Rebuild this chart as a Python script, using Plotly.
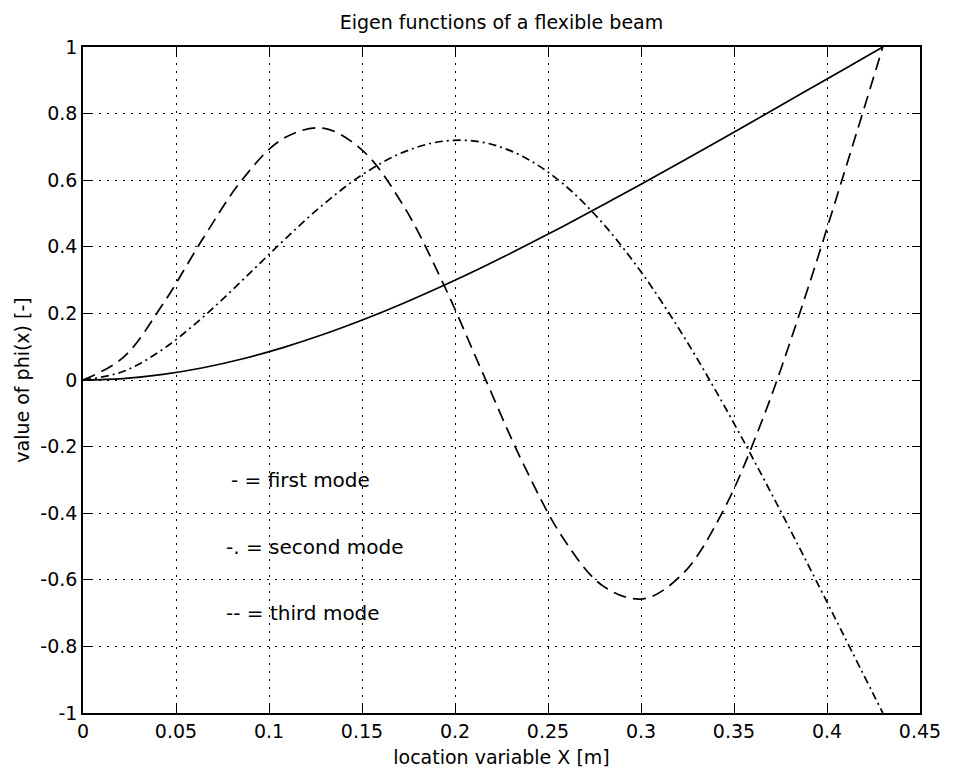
import plotly.graph_objects as go

# location along the beam [m]
x_pos = [0, 0.0215, 0.043, 0.0645, 0.086, 0.1075, 0.129, 0.1505, 0.172, 0.1935, 0.215,
         0.2365, 0.258, 0.2795, 0.301, 0.3225, 0.344, 0.3655, 0.387, 0.4085, 0.43]

first_mode = [0, 0.0043, 0.0168, 0.0368, 0.0639, 0.0973, 0.1365, 0.1809, 0.2299, 0.2830, 0.3395,
              0.3991, 0.4611, 0.5252, 0.5909, 0.6578, 0.7255, 0.7938, 0.8624, 0.9312, 1.0]

second_mode = [0, 0.0254, 0.0926, 0.1888, 0.3011, 0.4173, 0.5261, 0.6177, 0.6835, 0.7170, 0.7137,
               0.6712, 0.5895, 0.4702, 0.3171, 0.1350, -0.0700, -0.2917, -0.5237, -0.7611, -1.0]

third_mode = [0, 0.0670, 0.2281, 0.4248, 0.6045, 0.7245, 0.7562, 0.6881, 0.5259, 0.2917, 0.0197,
              -0.2493, -0.4738, -0.6181, -0.6574, -0.5815, -0.3949, -0.1158, 0.2285, 0.6085, 1.0]

x_ticks = [0, 0.05, 0.1, 0.15, 0.2, 0.25, 0.3, 0.35, 0.4, 0.45]
x_tick_text = ["0", "0.05", "0.1", "0.15", "0.2", "0.25", "0.3", "0.35", "0.4", "0.45"]
y_ticks = [-1, -0.8, -0.6, -0.4, -0.2, 0, 0.2, 0.4, 0.6, 0.8, 1]
y_tick_text = ["-1", "-0.8", "-0.6", "-0.4", "-0.2", "0", "0.2", "0.4", "0.6", "0.8", "1"]

legend_text = ["- = first mode", "-. = second mode", "-- = third mode"]
legend_x = [0.0785, 0.076, 0.076]
legend_y = [-0.3, -0.5, -0.7]

FONT = "DejaVu Sans"
FS = 19

fig = go.Figure()
fig.add_trace(go.Scatter(x=x_pos, y=first_mode, mode="lines", line_shape="spline",
                         line=dict(color="black", width=1.7, dash="solid")))
fig.add_trace(go.Scatter(x=x_pos, y=second_mode, mode="lines", line_shape="spline",
                         line=dict(color="black", width=1.7, dash="8px,4px,2px,4px")))
fig.add_trace(go.Scatter(x=x_pos, y=third_mode, mode="lines", line_shape="spline",
                         line=dict(color="black", width=1.7, dash="13px,7px")))

for t, xx, yy in zip(legend_text, legend_x, legend_y):
    fig.add_annotation(x=xx, y=yy, text=t, showarrow=False, xanchor="left", yanchor="middle",
                       font=dict(family=FONT, size=20, color="black"))

axis_common = dict(showline=True, linecolor="black", linewidth=1.5, mirror="ticks",
                   ticks="inside", ticklen=8, tickcolor="black", tickwidth=1,
                   showgrid=True, gridcolor="black", gridwidth=1, griddash="2px,6px",
                   zeroline=False, tickfont=dict(family=FONT, size=FS, color="black"))

fig.update_xaxes(range=[0, 0.45], tickvals=x_ticks, ticktext=x_tick_text,
                 title=dict(text="location variable X [m]", font=dict(family=FONT, size=FS, color="black"),
                            standoff=10),
                 **axis_common)
fig.update_yaxes(range=[-1, 1], tickvals=y_ticks, ticktext=y_tick_text,
                 title=dict(text="value of phi(x) [-]", font=dict(family=FONT, size=FS, color="black"),
                            standoff=6),
                 **axis_common)

fig.update_layout(
    width=953, height=777,
    margin=dict(l=83, r=28, t=47, b=62),
    paper_bgcolor="white", plot_bgcolor="white",
    showlegend=False,
    title=dict(text="Eigen functions of a flexible beam", x=0.5, xref="paper", xanchor="center",
               y=1 - 22 / 777, yanchor="middle", font=dict(family=FONT, size=FS, color="black")),
)

fig.write_html("out.html")
